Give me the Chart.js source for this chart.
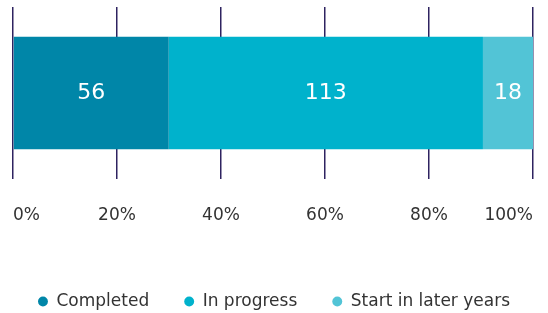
<!DOCTYPE html>
<html>
<head>
<meta charset="utf-8">
<script src="https://cdn.jsdelivr.net/npm/chart.js@4/dist/chart.umd.min.js"></script>
<style>
  html, body { margin: 0; padding: 0; background: #fff; }
  #wrap { width: 548px; height: 313px; }
</style>
</head>
<body>
<div id="wrap"><canvas id="chart"></canvas></div>
<script>
const categories = ['Projects'];
const seriesNames = ['Completed', 'In progress', 'Start in later years'];
const seriesCounts = [56, 113, 18];
const seriesColors = ['#0086a8', '#00b2cc', '#52c4d6'];
const tickLabels = ['0%', '20%', '40%', '60%', '80%', '100%'];

const total = seriesCounts.reduce((a, b) => a + b, 0);
const fontFamily = '"DejaVu Sans", sans-serif';

// draws the count in the middle of each segment
const segmentLabels = {
    id: 'segmentLabels',
    afterDatasetsDraw(chart) {
        const ctx = chart.ctx;
        ctx.save();
        ctx.fillStyle = '#ffffff';
        ctx.font = '22px ' + fontFamily;
        ctx.textAlign = 'center';
        ctx.textBaseline = 'middle';
        chart.data.datasets.forEach((ds, i) => {
            const meta = chart.getDatasetMeta(i);
            meta.data.forEach((bar, j) => {
                const p = bar.getProps(['x', 'y', 'base'], true);
                ctx.fillText(String(ds.counts[j]), (p.x + p.base) / 2, p.y);
            });
        });
        ctx.restore();
    }
};

new Chart(document.getElementById('chart'), {
    type: 'bar',
    data: {
        labels: categories,
        datasets: seriesNames.map((name, i) => ({
            label: name,
            data: [seriesCounts[i] / total * 100],
            counts: [seriesCounts[i]],
            backgroundColor: seriesColors[i],
            borderWidth: 0,
            categoryPercentage: 1,
            barPercentage: 0.655
        }))
    },
    options: {
        indexAxis: 'y',
        responsive: true,
        maintainAspectRatio: false,
        animation: false,
        layout: { padding: { left: 0, right: 0, top: 7, bottom: -7 } },
        scales: {
            x: {
                stacked: true,
                min: 0,
                max: 100,
                border: { display: false },
                grid: { color: '#2e2360', lineWidth: 1.5, drawTicks: false },
                ticks: {
                    stepSize: 20,
                    align: 'inner',
                    padding: 26,
                    color: '#333333',
                    font: { family: fontFamily, size: 17 },
                    callback: (v, i) => tickLabels[i]
                },
                afterFit(scale) {
                    scale.paddingLeft = 13;
                    scale.paddingRight = 15;
                    scale.height = 79;
                }
            },
            y: {
                stacked: true,
                display: false
            }
        },
        plugins: {
            legend: {
                position: 'bottom',
                labels: {
                    usePointStyle: true,
                    pointStyle: 'circle',
                    boxWidth: 10,
                    boxHeight: 7,
                    padding: 35,
                    color: '#333333',
                    font: { family: fontFamily, size: 17 }
                }
            },
            tooltip: { enabled: false }
        }
    },
    plugins: [segmentLabels]
});
</script>
</body>
</html>
